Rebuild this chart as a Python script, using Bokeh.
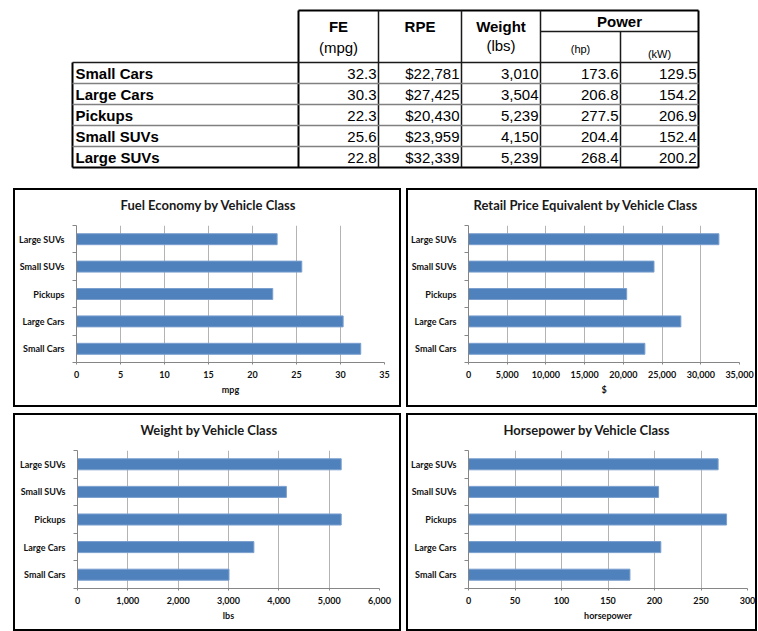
from bokeh.plotting import figure
from bokeh.models import Range1d, FixedTicker, NumeralTickFormatter, Title
from bokeh.layouts import column, row
from bokeh.embed import file_html
from bokeh.resources import INLINE
from bokeh.core.properties import value

# ---------------- data ----------------
classes = ["Small Cars", "Large Cars", "Pickups", "Small SUVs", "Large SUVs"]
fe_mpg = [32.3, 30.3, 22.3, 25.6, 22.8]
rpe_usd = [22781, 27425, 20430, 23959, 32339]
weight_lbs = [3010, 3504, 5239, 4150, 5239]
power_hp = [173.6, 206.8, 277.5, 204.4, 268.4]
power_kw = [129.5, 154.2, 206.9, 152.4, 200.2]

# ---------------- table ----------------
TFONT = "Liberation Sans"
COL_X = [72, 298, 378, 461, 540, 620, 698]
ROW_Y = [62, 83, 104, 125, 146, 167]
HEAD_TOP = 10
POWER_Y = 31

t = figure(width=758, height=185, x_range=Range1d(0, 758), y_range=Range1d(185, 0),
           output_backend="svg", toolbar_location=None, x_axis_location=None,
           y_axis_location=None, min_border=0, outline_line_color=None)
t.grid.visible = False

def seg(x0, y0, x1, y1, store):
    store[0].append(x0); store[1].append(y0); store[2].append(x1); store[3].append(y1)

outer = ([], [], [], [])
seg(COL_X[1], HEAD_TOP, COL_X[-1], HEAD_TOP, outer)
seg(COL_X[1], HEAD_TOP, COL_X[1], ROW_Y[-1], outer)
seg(COL_X[-1], HEAD_TOP, COL_X[-1], ROW_Y[-1], outer)
seg(COL_X[0], ROW_Y[0], COL_X[0], ROW_Y[-1], outer)
seg(COL_X[0], ROW_Y[-1], COL_X[-1], ROW_Y[-1], outer)
t.segment(x0=outer[0], y0=outer[1], x1=outer[2], y1=outer[3], line_color="#000000", line_width=2)

inner = ([], [], [], [])
for cxv in COL_X[2:5]:
    seg(cxv, HEAD_TOP, cxv, ROW_Y[-1], inner)
seg(COL_X[5], POWER_Y, COL_X[5], ROW_Y[-1], inner)
seg(COL_X[4], POWER_Y, COL_X[-1], POWER_Y, inner)
seg(COL_X[0], ROW_Y[0], COL_X[-1], ROW_Y[0], inner)
t.segment(x0=inner[0], y0=inner[1], x1=inner[2], y1=inner[3], line_color="#1a1a1a", line_width=1.5)

rows_l = ([], [], [], [])
for ry in ROW_Y[1:-1]:
    seg(COL_X[0], ry, COL_X[-1], ry, rows_l)
t.segment(x0=rows_l[0], y0=rows_l[1], x1=rows_l[2], y1=rows_l[3], line_color="#808080", line_width=1.5)

def cx(i):
    return (COL_X[i] + COL_X[i + 1]) / 2

t.text(x=[cx(1), cx(2), cx(3)], y=[26, 26, 26], text=["FE", "RPE", "Weight"],
       text_font=value(TFONT), text_font_style="bold", text_font_size="15px",
       text_align="center", text_baseline="middle", text_color="#000000")
t.text(x=[(COL_X[4] + COL_X[6]) / 2], y=[21], text=["Power"],
       text_font=value(TFONT), text_font_style="bold", text_font_size="15px",
       text_align="center", text_baseline="middle", text_color="#000000")
t.text(x=[cx(1), cx(3)], y=[47, 45], text=["(mpg)", "(lbs)"],
       text_font=value(TFONT), text_font_size="15px",
       text_align="center", text_baseline="middle", text_color="#000000")
t.text(x=[cx(4), cx(5)], y=[48, 53], text=["(hp)", "(kW)"],
       text_font=value(TFONT), text_font_size="11px",
       text_align="center", text_baseline="middle", text_color="#000000")

row_centers = [(ROW_Y[i] + ROW_Y[i + 1]) / 2 + 0.5 for i in range(len(classes))]
t.text(x=[COL_X[0] + 3] * len(classes), y=row_centers, text=classes,
       text_font=value(TFONT), text_font_style="bold", text_font_size="15px",
       text_align="left", text_baseline="middle", text_color="#000000")

columns_txt = [
    [f"{v:.1f}" for v in fe_mpg],
    [f"${v:,}" for v in rpe_usd],
    [f"{v:,}" for v in weight_lbs],
    [f"{v:.1f}" for v in power_hp],
    [f"{v:.1f}" for v in power_kw],
]
for ci, col in enumerate(columns_txt):
    t.text(x=[COL_X[ci + 2] - 2] * len(col), y=row_centers, text=col,
           text_font=value(TFONT), text_font_size="15px",
           text_align="right", text_baseline="middle", text_color="#000000")

# ---------------- bar charts ----------------
CFONT = "Lato"
BAR = "#4F81BD"

def bar_chart(title, values, xmax, step, xlabel, W, H, bl, br, bt, bb, margin, toff):
    p = figure(width=W, height=H, x_range=Range1d(0, xmax), y_range=Range1d(0.5, len(classes) + 0.5),
               output_backend="svg", toolbar_location=None, title=None,
               min_border_left=bl, min_border_right=br, min_border_top=bt, min_border_bottom=bb,
               margin=margin, styles={"border": "2px solid #000000"},
               outline_line_color=None)
    ypos = list(range(1, len(classes) + 1))
    p.hbar(y=ypos, left=0, right=values, height=0.4, fill_color=BAR,
           line_color="#7A9FCE", line_width=1)

    # spacer panel between title and plot area, then the title itself
    p.add_layout(Title(text=" ", text_font_size="7px", standoff=0), "above")
    p.add_layout(Title(text=title, align="left", offset=toff, standoff=8,
                       text_font=CFONT, text_font_style="bold", text_font_size="13px",
                       text_color="#1a1a1a"), "above")

    xticks = list(range(0, xmax + step, step))
    p.xaxis.ticker = FixedTicker(ticks=xticks)
    p.xaxis.formatter = NumeralTickFormatter(format="0,0")
    p.xaxis.axis_line_color = "#868686"
    p.xaxis.major_tick_line_color = "#868686"
    p.xaxis.major_tick_out = 2
    p.xaxis.major_tick_in = 0
    p.xaxis.minor_tick_line_color = None
    p.xaxis.major_label_standoff = 6
    p.xaxis.major_label_text_font = CFONT
    p.xaxis.major_label_text_font_style = "bold"
    p.xaxis.major_label_text_font_size = "9px"
    p.xaxis.major_label_text_color = "#111111"
    p.xaxis.axis_label = xlabel
    p.xaxis.axis_label_text_font = CFONT
    p.xaxis.axis_label_text_font_style = "bold"
    p.xaxis.axis_label_text_font_size = "9px"
    p.xaxis.axis_label_text_color = "#111111"
    p.xaxis.axis_label_standoff = 3

    p.yaxis.ticker = FixedTicker(ticks=ypos, minor_ticks=[y - 0.5 for y in ypos] + [ypos[-1] + 0.5])
    p.yaxis.major_label_overrides = {y: c for y, c in zip(ypos, classes)}
    p.yaxis.axis_line_color = "#868686"
    p.yaxis.major_tick_out = 0
    p.yaxis.major_tick_in = 0
    p.yaxis.minor_tick_out = 4
    p.yaxis.minor_tick_in = 0
    p.yaxis.minor_tick_line_color = "#868686"
    p.yaxis.major_label_standoff = 8
    p.yaxis.major_label_text_font = CFONT
    p.yaxis.major_label_text_font_style = "bold"
    p.yaxis.major_label_text_font_size = "9px"
    p.yaxis.major_label_text_color = "#111111"

    p.xgrid.grid_line_color = "#B3B3B3"
    p.ygrid.visible = False
    return p

c1 = bar_chart("Fuel Economy by Vehicle Class", fe_mpg, 35, 5, "mpg",
               388, 219, 61, 19, 35, 47, (3, 0, 0, 13), 44)
c2 = bar_chart("Retail Price Equivalent by Vehicle Class", rpe_usd, 35000, 5000, "$",
               351, 219, 60, 20, 35, 47, (3, 0, 0, 5), 5)
c3 = bar_chart("Weight by Vehicle Class", weight_lbs, 6000, 1000, "lbs",
               388, 218, 62, 24, 35, 45, (6, 0, 0, 13), 63)
c4 = bar_chart("Horsepower by Vehicle Class", power_hp, 300, 50, "horsepower",
               351, 218, 60, 12, 35, 45, (6, 0, 0, 5), 35)

layout = column(t, row(c1, c2), row(c3, c4))

open("out.html", "w").write(file_html(layout, INLINE))
